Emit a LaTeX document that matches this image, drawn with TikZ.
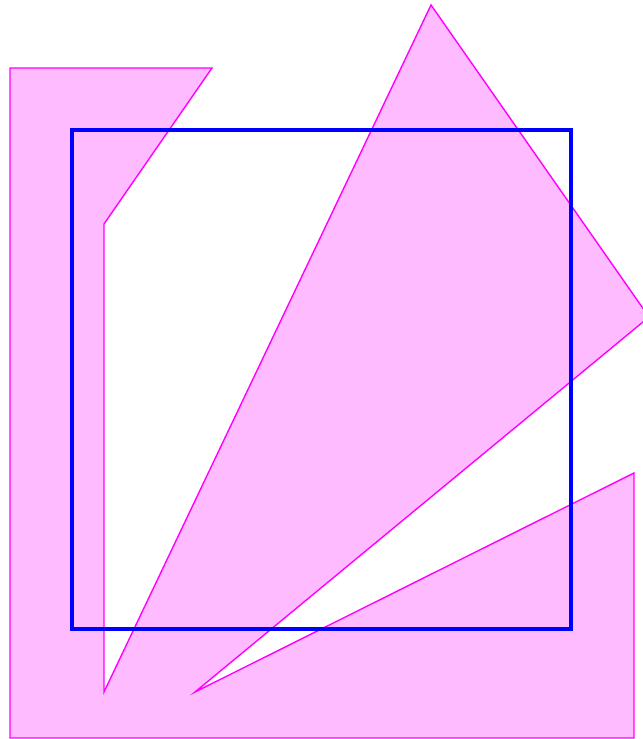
\documentclass[tikz,border=0pt]{standalone}
\usetikzlibrary{calc}
\definecolor{shapeline}{RGB}{255,0,255}
\definecolor{shapefill}{RGB}{255,187,255}
\definecolor{squareline}{RGB}{0,0,255}

\begin{document}
\begin{tikzpicture}[x=0.03cm, y=-0.03cm]
  \useasboundingbox (0,0) rectangle (642,739);
  % pink polygon
  \filldraw[draw=shapeline, fill=shapefill, line width=1.2pt, line join=miter]
    (10,68) -- (212,68) -- (104,224) -- (104,692) -- (431,5) -- (649,317)
    -- (195,692) -- (634,473) -- (634,738) -- (10,738) -- cycle;
  % blue square
  \draw[squareline, line width=2.8pt] (72,130) rectangle (571,629);
\end{tikzpicture}
\end{document}
